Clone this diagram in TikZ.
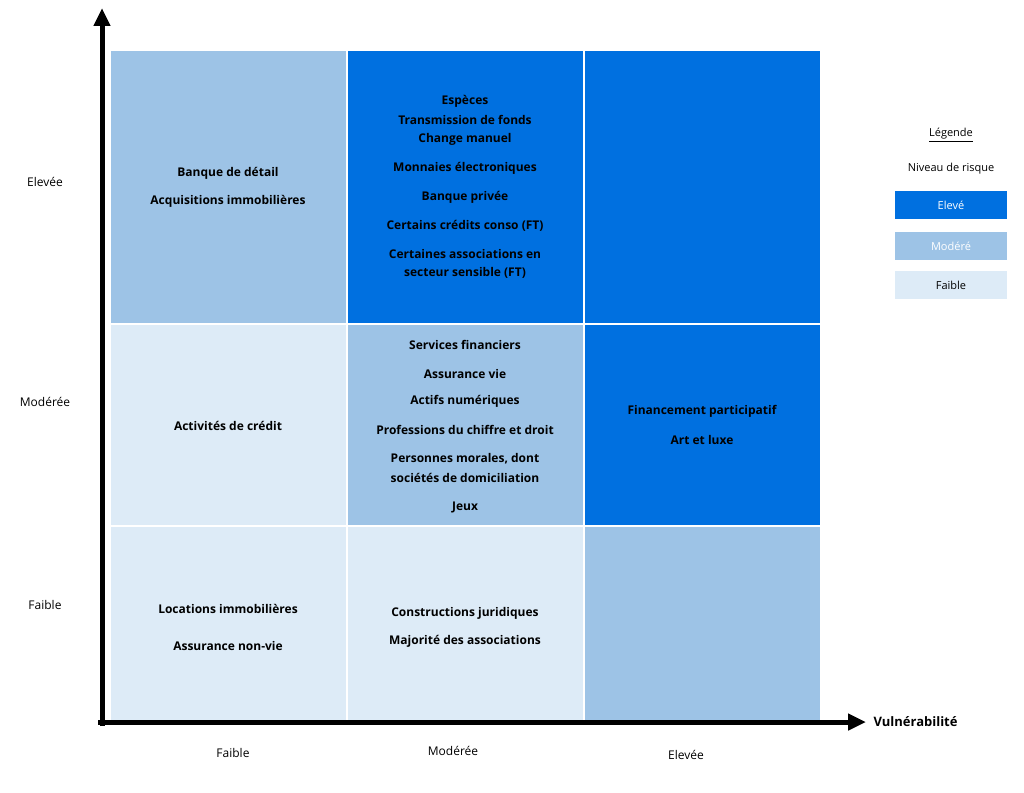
\documentclass[tikz,border=0pt]{standalone}
\usepackage{fontspec}
\setmainfont{Open Sans}
\usetikzlibrary{arrows.meta,positioning}
\definecolor{eleve}{RGB}{0,112,224}
\definecolor{modere}{RGB}{157,195,230}
\definecolor{faible}{RGB}{221,235,247}
\tikzset{
  cellbox/.style={draw=white, line width=1.5pt},
  item/.style={font=\fontsize{12}{14}\selectfont\bfseries, align=center},
  axislabel/.style={font=\fontsize{12}{14}\selectfont},
  legendbox/.style={minimum width=112pt, minimum height=28pt, inner sep=0pt, font=\fontsize{11}{13}\selectfont},
}
\begin{document}
\begin{tikzpicture}[x=1pt, y=-1pt, >=Latex]

      \useasboundingbox (0, 0) rectangle (1024, 792);

      % grid
      \fill [modere, cellbox] (110, 50) rectangle (347, 324);
      \fill [eleve, cellbox] (347, 50) rectangle (584, 324);
      \fill [eleve, cellbox] (584, 50) rectangle (821, 324);
      \fill [faible, cellbox] (110, 324) rectangle (347, 526);
      \fill [modere, cellbox] (347, 324) rectangle (584, 526);
      \fill [eleve, cellbox] (584, 324) rectangle (821, 526);
      \fill [faible, cellbox] (110, 526) rectangle (347, 722);
      \fill [faible, cellbox] (347, 526) rectangle (584, 722);
      \fill [modere, cellbox] (584, 526) rectangle (821, 722);
      \draw [white, line width=2pt] (347, 50) -- (347, 722) (584, 50) -- (584, 722)
        (110, 324) -- (821, 324) (110, 526) -- (821, 526);

      % axes
      \coordinate (origin) at (102, 722);
      \coordinate (ytop) at (102, 8);
      \coordinate (xend) at (866, 722);
      \draw [-{Triangle[length=18pt, width=16pt]}, line width=5pt] (102, 726) -- (ytop);
      \draw [-{Triangle[length=18pt, width=16pt]}, line width=5pt] (98, 722) -- (xend);
      \node [font=\fontsize{13}{15}\selectfont\bfseries, right=4pt of xend] (xlabel) {Vulnérabilité};

      \node [axislabel] (y3) at (45, 182) {Elevée};
      \node [axislabel] (y2) at (45, 402) {Modérée};
      \node [axislabel] (y1) at (45, 605) {Faible};
      \node [axislabel] (x1) at (233, 753) {Faible};
      \node [axislabel] (x2) at (453, 751) {Modérée};
      \node [axislabel] (x3) at (686, 755) {Elevée};

      % cells
      \node [item] (a1) at (228, 173) {Banque de détail};
      \node [item] (a2) at (228, 201) {Acquisitions immobilières};

      \node [item] (b1) at (465, 101) {Espèces};
      \node [item] (b2) at (465, 120) {Transmission de fonds};
      \node [item] (b3) at (465, 139) {Change manuel};
      \node [item] (b4) at (465, 168) {Monnaies électroniques};
      \node [item] (b5) at (465, 197) {Banque privée};
      \node [item] (b6) at (465, 226) {Certains crédits conso (FT)};
      \node [item] (b7) at (465, 254) {Certaines associations en};
      \node [item] (b8) at (465, 273) {secteur sensible (FT)};

      \node [item] (c1) at (228, 426) {Activités de crédit};

      \node [item] (d1) at (465, 345) {Services financiers};
      \node [item] (d2) at (465, 374) {Assurance vie};
      \node [item] (d3) at (465, 401) {Actifs numériques};
      \node [item] (d4) at (465, 430) {Professions du chiffre et droit};
      \node [item] (d5) at (465, 459) {Personnes morales, dont};
      \node [item] (d6) at (465, 478) {sociétés de domiciliation};
      \node [item] (d7) at (465, 507) {Jeux};

      \node [item] (e1) at (702, 411) {Financement participatif};
      \node [item] (e2) at (702, 440) {Art et luxe};

      \node [item] (f1) at (228, 609) {Locations immobilières};
      \node [item] (f2) at (228, 646) {Assurance non-vie};

      \node [item] (g1) at (465, 613) {Constructions juridiques};
      \node [item] (g2) at (465, 641) {Majorité des associations};

      % legend
      \node [font=\fontsize{11}{13}\selectfont] (leg) at (951, 135) {\underline{Légende}};
      \node [font=\fontsize{11}{13}\selectfont] (niveau) at (951, 169) {Niveau de risque};
      \node [legendbox, fill=eleve, text=white] (l1) at (951, 205) {Elevé};
      \node [legendbox, fill=modere, text=white] (l2) at (951, 246) {Modéré};
      \node [legendbox, fill=faible] (l3) at (951, 285) {Faible};

    \end{tikzpicture}
\end{document}
